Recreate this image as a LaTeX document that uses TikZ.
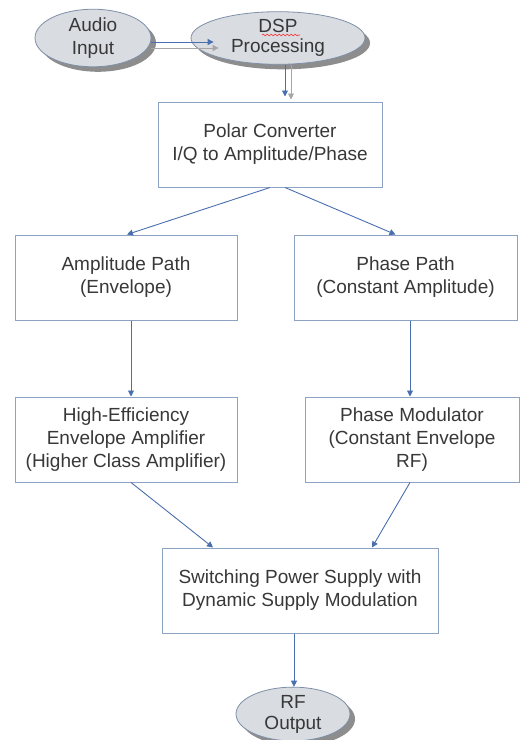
\documentclass[tikz,border=0pt]{standalone}
\usepackage{fontspec}
\setmainfont{Liberation Sans}
\usetikzlibrary{arrows.meta,shapes.geometric,shadows,decorations.pathmorphing}
\definecolor{boxline}{HTML}{8DA3C4}
\definecolor{arrowblue}{HTML}{4A6FAE}
\definecolor{ellfill}{HTML}{D9DCE1}
\definecolor{ellline}{HTML}{7E8FA8}
\definecolor{shadowgrey}{HTML}{707070}
\definecolor{txt}{HTML}{383838}
\begin{document}
\begin{tikzpicture}[x=1pt,y=-1pt,
  font=\fontsize{19}{23}\selectfont, text=txt,
  box/.style={draw=boxline, line width=1pt, fill=white, align=center,
    minimum height=85pt, inner sep=2pt},
  term/.style={ellipse, draw=ellline, fill=ellfill, line width=0.8pt,
    align=center, inner sep=0pt,
    drop shadow={shadow xshift=5pt, shadow yshift=-5pt, fill=shadowgrey, opacity=0.8}},
  arr/.style={draw=arrowblue, line width=0.9pt, -{Triangle[width=6pt,length=6pt]}},
  garr/.style={draw=gray!70, line width=0.9pt, -{Triangle[width=6pt,length=6pt]}}
]
\useasboundingbox (0,0) rectangle (520,740);

\node[term, minimum width=116pt, minimum height=48pt] (audio) at (93,38) {Audio\\Input};
\node[term, minimum width=174pt, minimum height=50pt, font=\fontsize{19}{20}\selectfont] (dsp) at (278,38) {DSP\\Processing};
\draw[red!80, line width=0.6pt, decorate, decoration={snake, amplitude=0.8pt, segment length=4pt}]
  ([xshift=-16pt,yshift=3pt]dsp.center) -- ([xshift=22pt,yshift=3pt]dsp.center);

\node[box, minimum width=224pt] (polar) at (270,144.5) {Polar Converter\\I/Q to Amplitude/Phase};
\node[box, minimum width=222pt] (amp) at (126,277.5) {Amplitude Path\\(Envelope)};
\node[box, minimum width=223pt] (phase) at (405.5,277.5) {Phase Path\\(Constant Amplitude)};
\node[box, minimum width=222pt] (he) at (126,439.5) {High-Efficiency\\Envelope Amplifier\\(Higher Class Amplifier)};
\node[box, minimum width=214pt] (pm) at (412,439.5) {Phase Modulator\\(Constant Envelope\\RF)};
\node[box, minimum width=276pt] (sw) at (300,590.5) {Switching Power Supply with\\Dynamic Supply Modulation};
\node[term, minimum width=114pt, minimum height=46pt, font=\fontsize{19}{21}\selectfont] (rf) at (293,714) {RF\\Output};

% double connectors at the top
\draw[garr] ([yshift=-10pt]audio.east) -- ([xshift=28pt,yshift=-10pt]dsp.west);
\draw[arr] ([yshift=-4pt]audio.east) -- ([xshift=23pt,yshift=-4pt]dsp.west);
\draw[garr] ([xshift=13pt]dsp.south) -- ([xshift=21pt,yshift=2pt]polar.north);
\draw[arr] ([xshift=7pt]dsp.south) -- ([xshift=15pt,yshift=5pt]polar.north);

\draw[arr] (polar.south) -- ([xshift=1pt]amp.north);
\draw[arr] ([xshift=15pt]polar.south) -- ([xshift=-10pt]phase.north);
\draw[arr] ([xshift=5pt]amp.south) -- ([xshift=5pt]he.north);
\draw[arr] ([xshift=4.5pt]phase.south) -- ([xshift=-2pt]pm.north);
\draw[arr] ([xshift=5pt]he.south) -- ([xshift=-87pt]sw.north);
\draw[arr] ([xshift=-2pt]pm.south) -- ([xshift=72pt]sw.north);
\draw[arr] ([xshift=-6pt]sw.south) -- ([xshift=1pt]rf.north);
\end{tikzpicture}
\end{document}
